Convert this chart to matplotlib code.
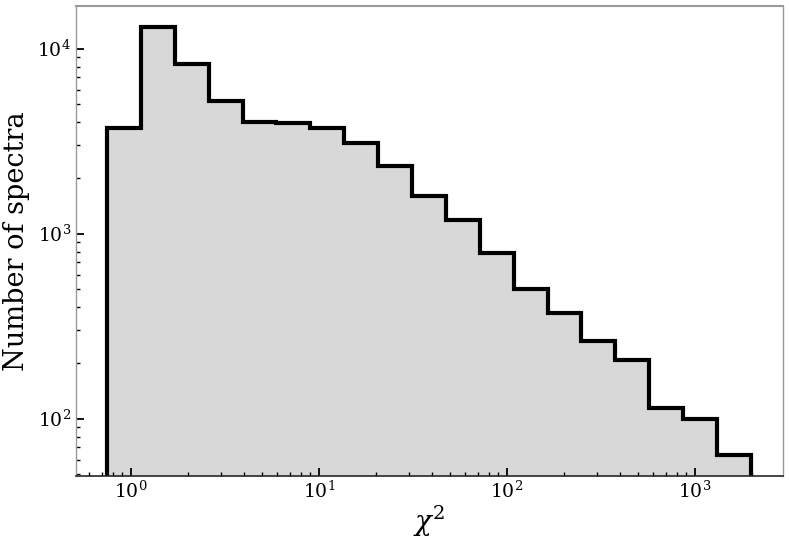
import numpy as np
import matplotlib
matplotlib.use("Agg")
import matplotlib.pyplot as plt

# Histogram of chi^2 values (log-spaced bins)
edge_min = 0.745
edge_max = 1986.0
n_bins = 19
counts = [3740, 13100, 8230, 5190, 4000, 3950, 3730, 3080, 2310, 1590,
          1190, 786, 505, 371, 262, 208, 114, 100, 64]
xlabel = r"$\chi^2$"
ylabel = "Number of spectra"

plt.rcParams['font.family'] = ['DejaVu Serif']
plt.rcParams['mathtext.fontset'] = 'dejavuserif'

edges = np.logspace(np.log10(edge_min), np.log10(edge_max), n_bins + 1)

fig = plt.figure(figsize=(7.89, 5.44), dpi=100)
ax = fig.add_axes([0.0963, 0.125, 0.8961, 0.864])

ax.stairs(counts, edges, baseline=1e-2, fill=True, color='#d8d8d8', lw=0)
ax.stairs(counts, edges, baseline=1e-2, fill=False, color='black', lw=3)

ax.set_xscale('log')
ax.set_yscale('log')
ax.set_xlim(0.51, 2940)
ax.set_ylim(49, 17000)

ax.set_xlabel(xlabel, fontsize=20, labelpad=1)
ax.set_ylabel(ylabel, fontsize=19.5, labelpad=5)

ax.tick_params(which='both', direction='in', labelsize=13.5)
ax.tick_params(which='major', length=6, width=1.3)
ax.tick_params(which='minor', length=3, width=1)

for s in ['left', 'right', 'top']:
    ax.spines[s].set_color('0.6')
    ax.spines[s].set_linewidth(1.0)
ax.spines['top'].set_linewidth(1.5)
ax.spines['bottom'].set_color('0.15')
ax.spines['bottom'].set_linewidth(1.2)

fig.savefig('out.png', dpi=100)
